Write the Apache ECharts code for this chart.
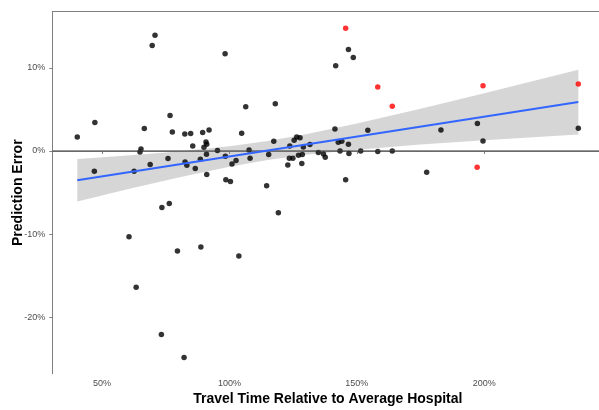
<!DOCTYPE html>
<html>
<head>
<meta charset="utf-8">
<script src="https://cdn.jsdelivr.net/npm/echarts@6/dist/echarts.min.js"></script>
<style>
  html, body { margin: 0; padding: 0; background: #fff; }
  #chart { width: 599px; height: 410px; }
</style>
</head>
<body>
<div id="chart"></div>
<script>
// Hospitals: travel time relative to the average hospital (%) and prediction error (%)
const travelTime = [
  40.3, 47.2, 47.0, 69.7, 70.8, 64.9, 65.3, 66.6, 62.6, 68.9,
  76.7, 77.6, 75.9, 82.5, 84.8, 85.6, 82.6, 83.3, 86.6, 89.5,
  92.0, 90.8, 91.1, 90.0, 91.0, 88.6, 91.1, 95.3, 98.3, 98.6,
  100.4, 98.4, 101.0, 102.6, 104.8, 106.4, 107.7, 108.1, 114.6, 115.4,
  117.4, 118.0, 122.9, 123.7, 123.5, 124.9, 125.4, 126.4, 127.7, 127.1,
  128.6, 129.0, 128.4, 131.6, 134.9, 136.9, 137.6, 141.4, 142.7, 144.1,
  143.4, 146.7, 146.9, 151.5, 154.3, 145.6, 146.7, 148.6, 141.7, 183.0,
  197.3, 199.5, 236.9, 177.4, 158.2, 163.9, 73.5, 76.4, 119.2, 60.6,
  79.6, 88.8, 103.7, 63.4, 73.3, 82.2
];
const predError = [
  1.68, 3.41, -2.44, 12.69, 13.93, -0.12, 0.24, 2.69, -2.44, -1.63,
  4.25, 2.28, -0.91, 2.04, 2.09, 0.60, -1.32, -1.72, -2.11, 2.21,
  2.52, 1.08, 0.80, 0.44, -0.40, -1.00, -2.83, 0.05, 11.69, -3.48,
  -3.67, -0.64, -1.56, -1.15, 2.12, 5.33, 0.12, -0.88, -4.20, -0.43,
  1.16, 5.69, -1.68, 0.60, -0.88, -0.88, 1.28, 1.68, 1.60, -0.52,
  -0.43, 0.48, -1.51, 0.77, -0.20, -0.36, -0.76, 2.64, 1.04, 1.16,
  0.00, 0.80, -0.32, 0.00, 2.48, -3.48, 12.21, 11.25, 10.25, 2.52,
  3.29, 1.20, 2.73, -2.56, -0.07, 0.00, -6.80, -6.32, -7.44, -10.32,
  -12.04, -11.56, -12.64, -16.40, -22.09, -24.85
];

// Highlighted hospitals (drawn in red)
const flaggedTravelTime = [145.6, 158.2, 163.9, 199.5, 236.9, 197.2];
const flaggedError = [14.77, 7.68, 5.37, 7.85, 8.04, -1.96];

// Linear fit and its confidence band
const fitX = [40.3, 236.9];
const fitY = [-3.52, 5.88];
const bandX = [40.3, 60, 80, 100, 115, 130, 150, 175, 200, 236.9];
const bandUpper = [-0.97, -0.55, -0.07, 0.57, 1.19, 2.00, 3.29, 5.08, 6.95, 9.78];
const bandLower = [-6.07, -4.61, -3.19, -1.89, -1.09, -0.46, 0.15, 0.76, 1.27, 1.98];

// Axis ticks
const xTicks = [50, 100, 150, 200];
const yTicks = [-20, -10, 0, 10];

const xRange = [30.5, 246.7];
const yRange = [-26.8, 16.75];

const FONT = '"Liberation Sans", Arial, Helvetica, sans-serif';
const AXIS_GREY = '#808080';

const chart = echarts.init(document.getElementById('chart'), null, { renderer: 'canvas' });

const pct = v => v + '%';

chart.setOption({
  animation: false,
  backgroundColor: '#ffffff',
  grid: {
    left: 52.3, right: -4.3, top: 11.7, bottom: 36.3,
    containLabel: false,
    outerBoundsMode: 'none'
  },
  xAxis: [
    {
      type: 'value',
      min: xRange[0],
      max: xRange[1],
      name: 'Travel Time Relative to Average Hospital',
      nameLocation: 'middle',
      nameGap: 18,
      nameMoveOverlap: false,
      nameTextStyle: { fontFamily: FONT, fontSize: 14, fontWeight: 'bold', color: '#000' },
      axisLine: { show: true, lineStyle: { color: AXIS_GREY, width: 1 } },
      axisTick: { show: true, length: 3, customValues: xTicks, lineStyle: { color: AXIS_GREY } },
      axisLabel: { customValues: xTicks, formatter: pct, fontFamily: FONT, fontSize: 9, color: '#4d4d4d', margin: 5 },
      splitLine: { show: false }
    },
    {
      type: 'value',
      position: 'top',
      min: xRange[0],
      max: xRange[1],
      axisLine: { show: true, lineStyle: { color: AXIS_GREY, width: 1 } },
      axisTick: { show: false },
      axisLabel: { show: false },
      splitLine: { show: false }
    }
  ],
  yAxis: {
    type: 'value',
    min: yRange[0],
    max: yRange[1],
    name: 'Prediction Error',
    nameLocation: 'middle',
    nameGap: 27,
    nameMoveOverlap: false,
    nameTextStyle: { fontFamily: FONT, fontSize: 14, fontWeight: 'bold', color: '#000' },
    axisLine: { show: true, lineStyle: { color: AXIS_GREY, width: 1 } },
    axisTick: { show: true, length: 3, customValues: yTicks, lineStyle: { color: AXIS_GREY } },
    axisLabel: { customValues: yTicks, formatter: pct, fontFamily: FONT, fontSize: 9, color: '#4d4d4d', margin: 7 },
    splitLine: { show: false }
  },
  series: [
    {
      // zero reference line
      type: 'line',
      data: [[xRange[0], 0], [xRange[1], 0]],
      symbol: 'none',
      silent: true,
      lineStyle: { color: '#4a4a4a', width: 1 }
    },
    {
      type: 'scatter',
      data: travelTime.map((x, i) => [x, predError[i]]),
      symbolSize: 5.5,
      itemStyle: { color: '#000000' },
      silent: true
    },
    {
      // confidence band of the linear fit
      type: 'custom',
      silent: true,
      data: [[bandX[0], bandLower[0]]],
      renderItem: function (params, api) {
        const pts = [];
        for (let i = 0; i < bandX.length; i++) pts.push(api.coord([bandX[i], bandUpper[i]]));
        for (let i = bandX.length - 1; i >= 0; i--) pts.push(api.coord([bandX[i], bandLower[i]]));
        return {
          type: 'polygon',
          shape: { points: pts },
          style: { fill: 'rgba(153,153,153,0.4)', stroke: null }
        };
      }
    },
    {
      type: 'line',
      data: fitX.map((x, i) => [x, fitY[i]]),
      symbol: 'none',
      silent: true,
      lineStyle: { color: '#3366FF', width: 2 }
    },
    {
      type: 'scatter',
      data: flaggedTravelTime.map((x, i) => [x, flaggedError[i]]),
      symbolSize: 5.5,
      itemStyle: { color: '#FF0000' },
      silent: true
    }
  ]
});
</script>
</body>
</html>
